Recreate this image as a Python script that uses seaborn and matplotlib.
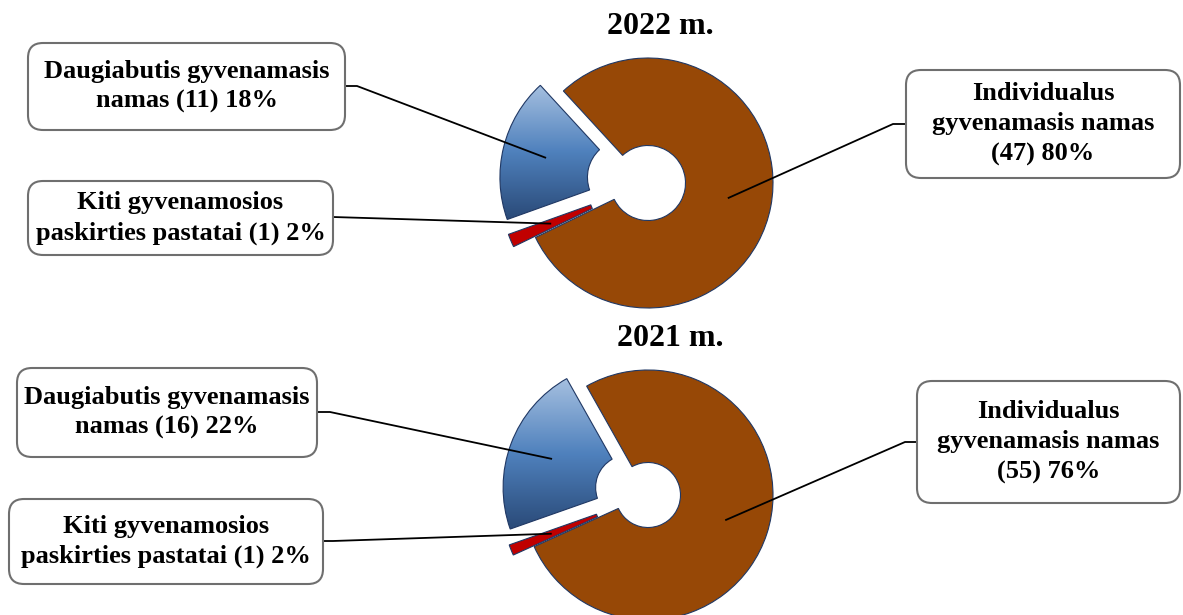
import numpy as np
import matplotlib
matplotlib.use("Agg")
import matplotlib.pyplot as plt
import seaborn as sns
from matplotlib.colors import LinearSegmentedColormap
from matplotlib.patches import FancyBboxPatch

# data
years = ["2022 m.", "2021 m."]
counts_2022 = [47, 1, 11]   # individualus, kiti, daugiabutis
counts_2021 = [55, 1, 16]
pct_2022 = [80, 2, 18]
pct_2021 = [76, 2, 22]
label_tpl = ["Individualus\ngyvenamasis namas\n({n}) {p}%",
             "Kiti gyvenamosios\npaskirties pastatai ({n}) {p}%",
             "Daugiabutis gyvenamasis\nnamas ({n}) {p}%"]

colors = ["#974806", "#C00000", "#4F81BD"]
edge = "#203864"
W, H = 1183, 615

sns.set_theme(style="white")
plt.rcParams['font.family'] = ['Liberation Serif', 'DejaVu Serif']
plt.rcParams['text.color'] = 'black'

fig = plt.figure(figsize=(W / 100, H / 100), dpi=100)

# layout in pixels (from top-left)
charts = [
    dict(counts=counts_2022, pct=pct_2022, title=years[0], c=(648, 183), R=125,
         start=132.6, explode=[0, 0.19, 0.19], width=0.70, tpos=(660, 27),
         boxes=[(906, 70, 1180, 178), (28, 181, 333, 255), (28, 43, 345, 130)],
         anchors=[(906, 124, -13), (333, 217, 0), (345, 86, 12)]),
    dict(counts=counts_2021, pct=pct_2021, title=years[1], c=(648, 495), R=125,
         start=119.4, explode=[0, 0.18, 0.17], width=0.74, tpos=(670, 338),
         boxes=[(917, 381, 1180, 503), (9, 499, 323, 584), (17, 368, 317, 457)],
         anchors=[(917, 442, -12), (323, 541, 10), (317, 412, 13)]),
]

blue_cmap = LinearSegmentedColormap.from_list("bl", ["#2A4A78", "#4F81BD", "#A6C0E0"])
lim = 1.6

for ch in charts:
    cx, cy = ch["c"]
    S = 2 * lim * ch["R"]
    ax = fig.add_axes([(cx - S / 2) / W, 1 - (cy + S / 2) / H, S / W, S / H])
    wedges, _ = ax.pie(ch["counts"], colors=colors, startangle=ch["start"],
                       counterclock=False, explode=ch["explode"], radius=1,
                       wedgeprops=dict(width=ch["width"], edgecolor=edge, linewidth=0.8))
    # vertical gradient on the blue wedge
    bw = wedges[2]
    ext = bw.get_path().get_extents()
    im = ax.imshow(np.linspace(1, 0, 256)[:, None], cmap=blue_cmap, aspect="auto",
                   extent=[ext.x0, ext.x1, ext.y0, ext.y1], zorder=1.5)
    im.set_clip_path(bw)
    bw.set_facecolor("none")
    bw.set_zorder(2)
    ax.set_xlim(-lim, lim)
    ax.set_ylim(-lim, lim)
    ax.axis("off")

    inv = ax.transData.inverted()
    for i, w in enumerate(wedges):
        # leader from box edge to the wedge
        mid = np.deg2rad((w.theta1 + w.theta2) / 2)
        px = w.center[0] + 0.65 * w.r * np.cos(mid)
        py = w.center[1] + 0.65 * w.r * np.sin(mid)
        bx, by, arm = ch["anchors"][i]
        p0 = inv.transform((bx, H - by))
        p1 = inv.transform((bx + arm, H - by))
        ax.plot([p0[0], p1[0], px], [p0[1], p1[1], py], color="black", lw=1.3,
                clip_on=False, zorder=4, solid_capstyle="butt")

        x0, y0, x1, y1 = ch["boxes"][i]
        box = FancyBboxPatch((x0 / 100, (H - y1) / 100), (x1 - x0) / 100, (y1 - y0) / 100,
                             boxstyle="round,pad=0,rounding_size=0.15",
                             transform=fig.dpi_scale_trans, facecolor="white",
                             edgecolor="#6f6f6f", linewidth=1.5, zorder=5)
        fig.patches.append(box)
        fig.text((x0 + x1) / 2 / W, 1 - (y0 + y1) / 2 / H,
                 label_tpl[i].format(n=ch["counts"][i], p=ch["pct"][i]),
                 ha="center", va="center", multialignment="center",
                 fontsize=19, fontweight="bold", linespacing=1.38, zorder=6)

    fig.text(ch["tpos"][0] / W, 1 - ch["tpos"][1] / H, ch["title"], ha="center",
             va="center", fontsize=23, fontweight="bold")

fig.savefig("out.png", dpi=100)
